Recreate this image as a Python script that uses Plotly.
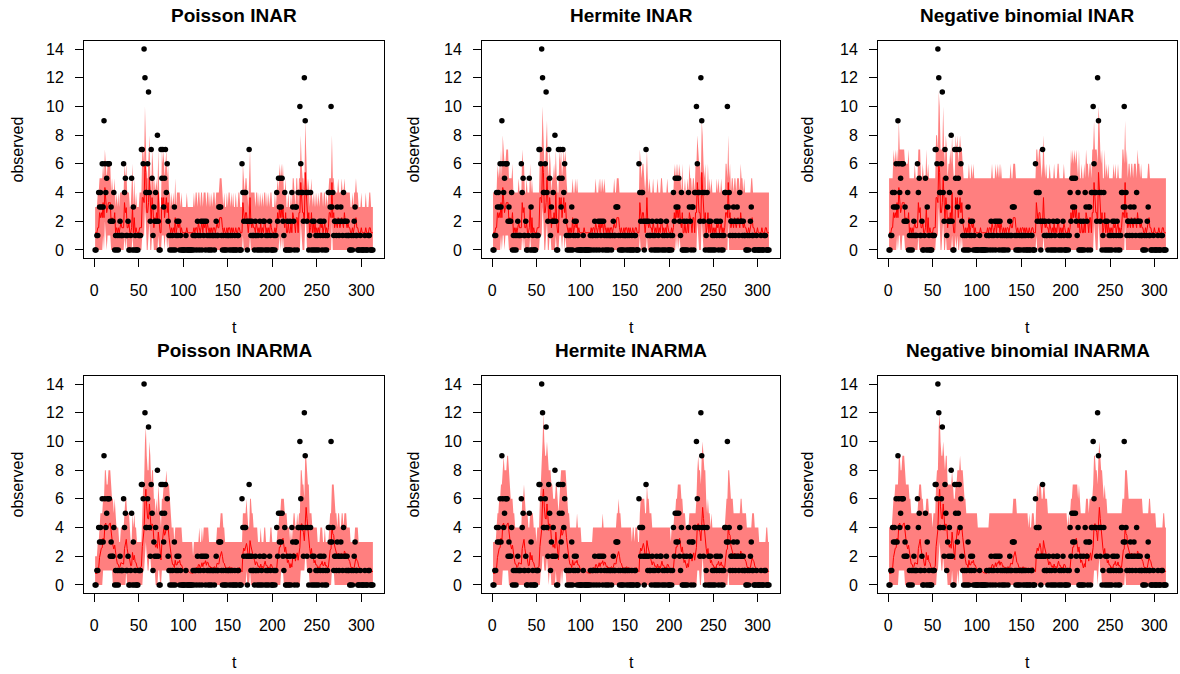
import numpy as np
import plotly.graph_objects as go
from math import lgamma, log, comb

# ---------------- data ----------------
observed = [
    0, 0, 1, 1, 4, 3, 4, 3, 6, 3,
    9, 6, 4, 5, 6, 6, 6, 2, 3, 2,
    2, 4, 0, 1, 0, 1, 0, 1, 2, 1,
    1, 1, 6, 4, 5, 1, 1, 2, 0, 0,
    1, 5, 0, 3, 0, 1, 0, 0, 0, 1,
    1, 1, 7, 7, 6, 14, 12, 4, 4, 6,
    11, 4, 2, 7, 5, 1, 3, 2, 4, 2,
    8, 2, 0, 0, 7, 5, 7, 3, 5, 7,
    4, 6, 2, 1, 0, 1, 0, 1, 0, 3,
    0, 1, 2, 1, 2, 0, 1, 0, 0, 0,
    0, 0, 1, 0, 0, 0, 0, 0, 0, 0,
    1, 0, 1, 1, 0, 2, 1, 0, 1, 2,
    0, 2, 1, 2, 0, 2, 1, 0, 1, 0,
    1, 0, 1, 1, 0, 1, 2, 1, 1, 3,
    3, 3, 1, 0, 1, 0, 0, 1, 0, 1,
    1, 0, 1, 0, 1, 0, 0, 1, 0, 0,
    1, 1, 0, 0, 0, 6, 4, 2, 4, 4,
    2, 0, 2, 7, 2, 1, 2, 1, 1, 0,
    2, 1, 0, 1, 0, 2, 0, 1, 0, 2,
    2, 0, 1, 0, 1, 0, 2, 1, 0, 0,
    0, 1, 0, 1, 4, 2, 5, 3, 5, 3,
    5, 2, 1, 4, 0, 0, 2, 0, 0, 2,
    0, 4, 3, 2, 0, 3, 3, 0, 4, 4,
    10, 6, 4, 4, 2, 12, 9, 4, 2, 4,
    0, 1, 4, 0, 2, 0, 2, 0, 1, 0,
    1, 0, 2, 1, 2, 0, 1, 2, 0, 1,
    0, 1, 4, 4, 3, 10, 3, 4, 1, 2,
    2, 1, 3, 2, 1, 2, 3, 2, 1, 4,
    2, 2, 1, 2, 1, 1, 0, 0, 1, 0,
    1, 2, 3, 1, 1, 0, 0, 0, 1, 0,
    0, 0, 0, 1, 0, 0, 0, 1, 1, 0,
    0, 0, 0,
]

panel_titles = ["Poisson INAR", "Hermite INAR", "Negative binomial INAR",
                "Poisson INARMA", "Hermite INARMA", "Negative binomial INARMA"]
innovation_family = ["poisson", "hermite", "negbin2", "poisson", "hermite", "negbin_k"]

# estimated model parameters (read off the fitted lines / bands)
thinning_alpha = [0.35, 0.35, 0.35, 0.22, 0.22, 0.22]
innovation_mean = [1.2, 1.2, 1.2, 0.29, 0.29, 0.29]   # INARMA: constant part
ma_beta = [0.0, 0.0, 0.0, 0.64, 0.64, 0.64]
hermite_share = (0.5, 0.35)   # a1, a2 for innovation mean 1.2
negbin_size = 0.6             # NB size (INAR)
negbin_extra_var = 2.0        # NB extra variance (INARMA)
band_probs = (0.05, 0.95)

x_ticks = [0, 50, 100, 150, 200, 250, 300]
y_ticks = [0, 2, 4, 6, 8, 10, 12, 14]

# ---------------- predictive distributions ----------------
K = 60
kk = np.arange(K)
lgam_k1 = np.array([lgamma(k + 1) for k in kk])


def pois_pmf(mu):
    mu = max(mu, 1e-9)
    return np.exp(-mu + kk * log(mu) - lgam_k1)


def nb_pmf(mu, r):
    p = r / (r + mu)
    return np.exp(np.array([lgamma(k + r) - lgamma(r) for k in kk]) - lgam_k1
                  + r * log(p) + kk * log(1 - p))


def hermite_pmf(mu):
    a1 = mu * hermite_share[0] / 1.2
    a2 = mu * hermite_share[1] / 1.2
    y1 = pois_pmf(a1)
    y2 = pois_pmf(a2)
    out = np.zeros(K)
    for j in range(K // 2):
        out[2 * j:] += y2[j] * y1[:K - 2 * j]
    return out


def binom_pmf(n, a):
    return np.array([comb(n, k) * a ** k * (1 - a) ** (n - k) for k in range(n + 1)])


def innov_pmf(fam, mu):
    if fam == "poisson":
        return pois_pmf(mu)
    if fam == "hermite":
        return hermite_pmf(mu)
    if fam == "negbin2":
        return nb_pmf(mu, negbin_size)
    return nb_pmf(mu, mu * mu / negbin_extra_var)


def quant(pmf, q):
    cdf = np.cumsum(pmf)
    return int(np.argmax(cdf >= q - 1e-12))


obs = np.array(observed)
n = len(obs)
t = np.arange(1, n + 1)


def panel_fit(i):
    a = thinning_alpha[i]
    c = innovation_mean[i]
    b = ma_beta[i]
    fam = innovation_family[i]
    m_prev = c / (1 - b)
    means, lo, hi = [], [], []
    for s in range(n):
        y_prev = obs[s - 1] if s > 0 else 0
        e = c + b * m_prev
        m = a * y_prev + e
        pmf = np.convolve(binom_pmf(int(y_prev), a), innov_pmf(fam, e))[:K]
        means.append(m)
        lo.append(quant(pmf, band_probs[0]))
        hi.append(quant(pmf, band_probs[1]))
        m_prev = m
    return np.array(means), np.array(lo), np.array(hi)


# ---------------- layout geometry ----------------
W, H = 1180, 674
col_px = [(84, 384), (482, 780), (878, 1177)]
row_px = [(41, 258), (376, 593)]
title_y = [15, 350]
xlab_y = [328, 662]
ylab_x = [17, 413, 807]

fig = go.Figure()
font_family = "Liberation Sans, Arial, Helvetica, sans-serif"
xr = [1 - 0.04 * (n - 1), n + 0.04 * (n - 1)]
yr = [0 - 0.04 * 14, 14 + 0.04 * 14]

annotations = []
for i in range(6):
    r, cidx = divmod(i, 3)
    xa = "x" if i == 0 else f"x{i + 1}"
    ya = "y" if i == 0 else f"y{i + 1}"
    means, lo, hi = panel_fit(i)
    fig.add_trace(go.Scatter(
        x=np.concatenate([t, t[::-1]]), y=np.concatenate([lo, hi[::-1]]),
        fill="toself", fillcolor="rgba(255,0,0,0.5)", line=dict(width=0),
        mode="lines", hoverinfo="skip", showlegend=False, xaxis=xa, yaxis=ya))
    fig.add_trace(go.Scatter(
        x=t, y=means, mode="lines", line=dict(color="red", width=1),
        showlegend=False, xaxis=xa, yaxis=ya))
    fig.add_trace(go.Scatter(
        x=t, y=obs, mode="markers", marker=dict(color="black", size=5.5),
        showlegend=False, xaxis=xa, yaxis=ya))

    axis_common = dict(showline=True, mirror=True, linecolor="black", linewidth=1,
                       ticks="outside", ticklen=8, tickwidth=1, tickcolor="black",
                       showgrid=False, zeroline=False,
                       tickfont=dict(family=font_family, size=16, color="black"))
    x0, x1 = col_px[cidx]
    y0, y1 = row_px[r]
    fig.layout[("xaxis" if i == 0 else f"xaxis{i + 1}")] = dict(
        domain=[x0 / W, x1 / W], anchor=ya, range=xr, tickvals=x_ticks,
        ticklabelstandoff=10, **axis_common)
    fig.layout[("yaxis" if i == 0 else f"yaxis{i + 1}")] = dict(
        domain=[1 - y1 / H, 1 - y0 / H], anchor=xa, range=yr, tickvals=y_ticks,
        ticklabelstandoff=8, **axis_common)

    cx = (x0 + x1) / 2 / W
    annotations.append(dict(text="<b>%s</b>" % panel_titles[i], x=cx, y=1 - title_y[r] / H,
                            xref="paper", yref="paper", showarrow=False,
                            xanchor="center", yanchor="middle",
                            font=dict(family=font_family, size=19, color="black")))
    annotations.append(dict(text="t", x=cx, y=1 - xlab_y[r] / H,
                            xref="paper", yref="paper", showarrow=False,
                            xanchor="center", yanchor="middle",
                            font=dict(family=font_family, size=16, color="black")))
    annotations.append(dict(text="observed", x=ylab_x[cidx] / W, y=1 - (y0 + y1) / 2 / H,
                            xref="paper", yref="paper", showarrow=False, textangle=-90,
                            xanchor="center", yanchor="middle",
                            font=dict(family=font_family, size=16, color="black")))

fig.update_layout(width=W, height=H, margin=dict(l=0, r=0, t=0, b=0),
                  paper_bgcolor="white", plot_bgcolor="white",
                  annotations=annotations, showlegend=False)

fig.write_html("out.html", config={"displayModeBar": False},
               post_script="document.body.style.margin='0px';document.body.style.overflow='hidden';")
